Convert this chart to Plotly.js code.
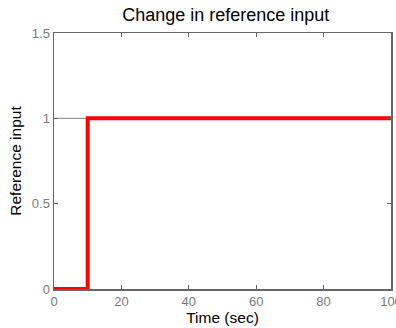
<!DOCTYPE html>
<html><head><meta charset="utf-8">
<script src="https://cdn.plot.ly/plotly-3.0.1.min.js"></script>
<style>html,body{margin:0;padding:0;background:#fff;overflow:hidden}</style>
</head><body><div id="chart" style="width:396px;height:328px"></div>
<script>
const timeSec = [0, 10, 10, 100];
const referenceInput = [0, 0, 1, 1];
const levelTime = [0, 100];
const levelValue = [1, 1];
const xTicks = [0, 20, 40, 60, 80, 100];
const yTicks = [0, 0.5, 1, 1.5];
const yTickLabels = ['0', '0.5', '1', '1.5'];

const FONT = 'Liberation Sans, Arial, sans-serif';
const traces = [
  {x: levelTime, y: levelValue, mode: 'lines', line: {color: '#808080', width: 1}, hoverinfo: 'skip', showlegend: false},
  {x: timeSec, y: referenceInput, mode: 'lines', line: {color: '#ff0000', width: 4}, cliponaxis: false, showlegend: false}
];
const axisCommon = {
  showline: true, linecolor: '#666666', linewidth: 1.5, mirror: 'ticks',
  ticks: 'inside', ticklen: 4, tickcolor: '#666666', showgrid: false, zeroline: false,
  ticklabeloverflow: 'allow', automargin: false,
  tickfont: {family: FONT, size: 13, color: '#7a7a7a'}
};
const layout = {
  width: 396, height: 328,
  margin: {l: 54, r: 5, t: 33, b: 39},
  paper_bgcolor: '#ffffff', plot_bgcolor: '#ffffff',
  title: {text: 'Change in reference input', x: 0.57, xanchor: 'center', y: 0.975, yanchor: 'top',
    font: {family: FONT, size: 18, color: '#000'}},
  xaxis: Object.assign({}, axisCommon, {range: [0, 100], tickvals: xTicks,
    title: {text: 'Time (sec)', standoff: 2, font: {family: FONT, size: 15.5, color: '#000'}}}),
  yaxis: Object.assign({}, axisCommon, {range: [0, 1.5], tickvals: yTicks, ticktext: yTickLabels,
    title: {text: 'Reference input', standoff: 6, font: {family: FONT, size: 15.5, color: '#000'}}}),
  showlegend: false
};
Plotly.newPlot('chart', traces, layout, {displayModeBar: false, staticPlot: true});
</script></body></html>
